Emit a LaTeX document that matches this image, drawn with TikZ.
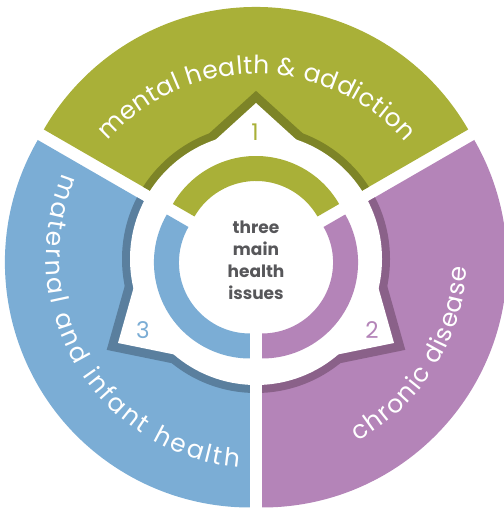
\documentclass[tikz,border=0pt]{standalone}
\usepackage{fontspec}
\setmainfont{Poppins}
\usetikzlibrary{calc}
\definecolor{cg}{HTML}{A9B038}
\definecolor{cgd}{HTML}{7D8427}
\definecolor{cb}{HTML}{7BADD5}
\definecolor{cbd}{HTML}{5A7F9E}
\definecolor{cp}{HTML}{B484B8}
\definecolor{cpd}{HTML}{8A6189}
\definecolor{cgray}{HTML}{57575A}
\tikzset{
  band/.style={line width=18pt, line cap=butt, line join=miter},
  numlab/.style={font=\fontsize{23}{23}\selectfont},
  arcchar/.style={anchor=base, inner sep=0pt, text=white}
}
\newdimen\ArcCum
\newdimen\ArcChW
\newcount\ArcN
\newbox\ArcBox
\newcommand\arcfont{\fontsize{25}{25}\selectfont}
\newcommand\ArcMeasure[1]{\pgfinterruptpicture\setbox\ArcBox=\hbox{\arcfont#1}\global\ArcChW=\wd\ArcBox\endpgfinterruptpicture}
% #1 centre, #2 baseline radius, #3 start angle, #4 end angle, #5 direction (+1 ccw, -1 cw), #6 name prefix, #7 chars
\newcommand\ArcText[7]{%
  \global\ArcCum=0pt
  \global\ArcN=0
  \foreach \ch in {#7}{\ArcMeasure{\ch}\global\advance\ArcCum by \ArcChW\global\advance\ArcN by 1 }%
  \edef\arctot{\the\ArcCum}%
  \edef\arcn{\the\ArcN}%
  \pgfmathsetmacro\arcextra{(abs(#4-#3)/57.29578*#2 - \arctot)/\arcn}%
  \global\ArcCum=0pt
  \foreach \ch [count=\i] in {#7}{%
    \ArcMeasure{\ch}%
    \pgfmathsetmacro\arcw{\the\ArcChW + \arcextra}%
    \edef\arccum{\the\ArcCum}%
    \pgfmathsetmacro\ang{#3 + (#5)*(\arccum+0.5*\arcw)/#2*57.29578}%
    \pgfmathsetmacro\rot{\ang + (#5)*90}%
    \node[arcchar, rotate=\rot] (#6\i) at ($(#1)+(\ang:#2)$) {\arcfont\ch};%
    \global\advance\ArcCum by \arcw pt
  }%
}
\begin{document}
\begin{tikzpicture}[x=1pt,y=1pt]
\useasboundingbox (0,0) rectangle (503,510);
\coordinate (C) at (256,251);
\coordinate (Cg) at ($(C)+(90:7)$);
\coordinate (Cb) at ($(C)+(210:7)$);
\coordinate (Cp) at ($(C)+(330:7)$);
\coordinate (Tg) at (256,238);
\coordinate (Tb) at (257,253);
% star tips and corners
\coordinate (T1) at (256,407);
\coordinate (A1) at (223,377);
\coordinate (B1) at (289,377);
\coordinate (T3) at (118,167);
\coordinate (A3) at (131,213);
\coordinate (B3) at (162,158);
\coordinate (T2) at (394,167);
\coordinate (A2) at (381,213);
\coordinate (B2) at (350,158);
\coordinate (F1a) at ($(T1)!(C)!(A1)$);
\coordinate (F1b) at ($(T1)!(C)!(B1)$);
\coordinate (F3a) at ($(T3)!(C)!(A3)$);
\coordinate (F3b) at ($(T3)!(C)!(B3)$);
\coordinate (F2a) at ($(T2)!(C)!(A2)$);
\coordinate (F2b) at ($(T2)!(C)!(B2)$);
% outer segments
\fill[cg] (Cg) -- ($(Cg)+(30:245)$) arc[start angle=30, end angle=150, radius=245] -- cycle;
\fill[cb] (Cb) -- ($(Cb)+(150:245)$) arc[start angle=150, end angle=270, radius=245] -- cycle;
\fill[cp] (Cp) -- ($(Cp)+(270:245)$) arc[start angle=270, end angle=390, radius=245] -- cycle;
% dark bands, clipped to each segment
\begin{scope}
  \clip (Cg) -- ($(Cg)+(30:245)$) arc[start angle=30, end angle=150, radius=245] -- cycle;
  \begin{scope}[yshift=-1.5pt]
  \fill[cgd] (C) circle[radius=134];
  \draw[band, cgd] (F1a) -- (T1) -- (F1b);
  \draw[band, cgd] (F3a) -- (T3) -- (F3b);
  \draw[band, cgd] (F2a) -- (T2) -- (F2b);
  \end{scope}
\end{scope}
\begin{scope}
  \clip (Cb) -- ($(Cb)+(150:245)$) arc[start angle=150, end angle=270, radius=245] -- cycle;
  \begin{scope}[yshift=-1.5pt]
  \fill[cbd] (C) circle[radius=134];
  \draw[band, cbd] (F1a) -- (T1) -- (F1b);
  \draw[band, cbd] (F3a) -- (T3) -- (F3b);
  \draw[band, cbd] (F2a) -- (T2) -- (F2b);
  \end{scope}
\end{scope}
\begin{scope}
  \clip (Cp) -- ($(Cp)+(270:245)$) arc[start angle=270, end angle=390, radius=245] -- cycle;
  \begin{scope}[yshift=-1.5pt]
  \fill[cpd] (C) circle[radius=134];
  \draw[band, cpd] (F1a) -- (T1) -- (F1b);
  \draw[band, cpd] (F3a) -- (T3) -- (F3b);
  \draw[band, cpd] (F2a) -- (T2) -- (F2b);
  \end{scope}
\end{scope}
% white star
\fill[white] (C) circle[radius=126];
\fill[white] (T1) -- (F1a) -- (C) -- (F1b) -- cycle;
\fill[white] (T3) -- (F3a) -- (C) -- (F3b) -- cycle;
\fill[white] (T2) -- (F2a) -- (C) -- (F2b) -- cycle;
% inner ring
\fill[cg] ($(Cg)+(30:96)$) arc[start angle=30, end angle=150, radius=96] -- ($(Cg)+(150:71)$) arc[start angle=150, end angle=30, radius=71] -- cycle;
\fill[cb] ($(Cb)+(150:96)$) arc[start angle=150, end angle=270, radius=96] -- ($(Cb)+(270:71)$) arc[start angle=270, end angle=150, radius=71] -- cycle;
\fill[cp] ($(Cp)+(270:96)$) arc[start angle=270, end angle=390, radius=96] -- ($(Cp)+(30:71)$) arc[start angle=390, end angle=270, radius=71] -- cycle;
% texts
\node[align=center, text=cgray, font=\bfseries\fontsize{17}{22}\selectfont] (ctr) at (256,250) {three\\main\\health\\issues};
\node[numlab, text=cg] (n1) at (255,378) {1};
\node[numlab, text=cb] (n3) at (143,180) {3};
\node[numlab, text=cp] (n2) at (372,180) {2};
\ArcText{Tg}{198}{138.5}{41}{-1}{g}{m,e,n,t,a,l,\ ,h,e,a,l,t,h,\ ,\&,\ ,a,d,d,i,c,t,i,o,n}
\ArcText{Tb}{211}{156.5}{265.5}{1}{b}{m,a,t,e,r,n,a,l,\ ,a,n,d,\ ,i,n,f,a,n,t,\ ,h,e,a,l,t,h}
\ArcText{Tb}{210}{298.5}{357.5}{1}{p}{c,h,r,o,n,i,c,\ ,d,i,s,e,a,s,e}
\end{tikzpicture}
\end{document}
